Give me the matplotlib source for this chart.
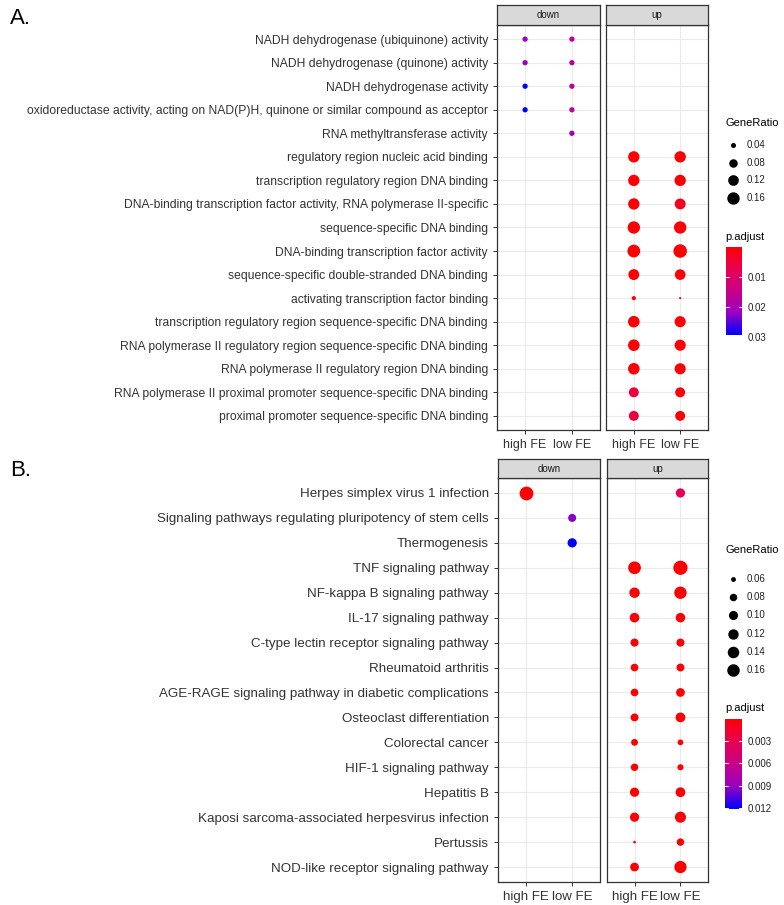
import numpy as np
import matplotlib
matplotlib.use('Agg')
import matplotlib.pyplot as plt
from matplotlib.colors import LinearSegmentedColormap, Normalize
from matplotlib.lines import Line2D

plt.rcParams['font.family'] = ['Liberation Sans', 'DejaVu Sans']

nan = np.nan

# ---- A. GO terms (top to bottom) ----
a_terms = [
    'NADH dehydrogenase (ubiquinone) activity',
    'NADH dehydrogenase (quinone) activity',
    'NADH dehydrogenase activity',
    'oxidoreductase activity, acting on NAD(P)H, quinone or similar compound as acceptor',
    'RNA methyltransferase activity',
    'regulatory region nucleic acid binding',
    'transcription regulatory region DNA binding',
    'DNA-binding transcription factor activity, RNA polymerase II-specific',
    'sequence-specific DNA binding',
    'DNA-binding transcription factor activity',
    'sequence-specific double-stranded DNA binding',
    'activating transcription factor binding',
    'transcription regulatory region sequence-specific DNA binding',
    'RNA polymerase II regulatory region sequence-specific DNA binding',
    'RNA polymerase II regulatory region DNA binding',
    'RNA polymerase II proximal promoter sequence-specific DNA binding',
    'proximal promoter sequence-specific DNA binding',
]
a_ratio_down_high = [0.042, 0.042, 0.042, 0.042] + [nan] * 13
a_padj_down_high = [0.022, 0.022, 0.0295, 0.0295] + [nan] * 13
a_ratio_down_low = [0.042, 0.042, 0.042, 0.042, 0.042] + [nan] * 12
a_padj_down_low = [0.017, 0.017, 0.017, 0.017, 0.022] + [nan] * 12
a_ratio_up_high = [nan] * 5 + [0.135, 0.135, 0.135, 0.16, 0.17, 0.125, 0.035,
                               0.14, 0.14, 0.14, 0.105, 0.105]
a_padj_up_high = [nan] * 5 + [0.0005, 0.0005, 0.0005, 0.0005, 0.0003, 0.0005, 0.001,
                              0.0005, 0.0005, 0.0005, 0.006, 0.006]
a_ratio_up_low = [nan] * 5 + [0.135, 0.135, 0.125, 0.16, 0.19, 0.12, 0.03,
                              0.13, 0.13, 0.13, 0.105, 0.105]
a_padj_up_low = [nan] * 5 + [0.0005, 0.0005, 0.003, 0.001, 0.0002, 0.001, 0.006,
                             0.001, 0.001, 0.001, 0.001, 0.001]

# ---- B. KEGG pathways (top to bottom) ----
b_terms = [
    'Herpes simplex virus 1 infection',
    'Signaling pathways regulating pluripotency of stem cells',
    'Thermogenesis',
    'TNF signaling pathway',
    'NF-kappa B signaling pathway',
    'IL-17 signaling pathway',
    'C-type lectin receptor signaling pathway',
    'Rheumatoid arthritis',
    'AGE-RAGE signaling pathway in diabetic complications',
    'Osteoclast differentiation',
    'Colorectal cancer',
    'HIF-1 signaling pathway',
    'Hepatitis B',
    'Kaposi sarcoma-associated herpesvirus infection',
    'Pertussis',
    'NOD-like receptor signaling pathway',
]
b_ratio_down_high = [0.19] + [nan] * 15
b_padj_down_high = [0.0003] + [nan] * 15
b_ratio_down_low = [nan, 0.086, 0.102] + [nan] * 13
b_padj_down_low = [nan, 0.0095, 0.0121] + [nan] * 13
b_ratio_up_high = [nan, nan, nan, 0.165, 0.12, 0.108, 0.087, 0.082, 0.082, 0.085,
                   0.074, 0.08, 0.102, 0.102, 0.055, 0.095]
b_padj_up_high = [nan, nan, nan, 0.0002, 0.0002, 0.0002, 0.0002, 0.0002, 0.0002,
                  0.0002, 0.0002, 0.0002, 0.0002, 0.0002, 0.0002, 0.0002]
b_ratio_up_low = [0.102, nan, nan, 0.20, 0.158, 0.106, 0.087, 0.085, 0.095, 0.11,
                  0.065, 0.068, 0.11, 0.132, 0.08, 0.155]
b_padj_up_low = [0.0035, nan, nan, 0.0001, 0.0002, 0.0002, 0.0002, 0.0002, 0.0002,
                 0.0002, 0.0003, 0.0003, 0.0002, 0.0002, 0.0002, 0.0002]

groups = ['high FE', 'low FE']

W, H = 784, 905
fig = plt.figure(figsize=(W / 100, H / 100), dpi=100)

# red -> blue, interpolated the way ggplot does (through magenta)
cmap = LinearSegmentedColormap.from_list(
    'padj', [(0, '#FF0000'), (0.25, '#E80050'), (0.5, '#CA0088'),
             (0.75, '#9A00C3'), (1, '#0000FF')])


def px_axes(x0, y0, x1, y1):
    return fig.add_axes([x0 / W, 1 - y1 / H, (x1 - x0) / W, (y1 - y0) / H])


def dot_px(v, lo, hi, r1, r2):
    v = np.asarray(v, dtype=float)
    return r1 + (r2 - r1) * np.sqrt((v - lo) / (hi - lo))


def draw_block(letter, terms, cols, g):
    n = len(terms)
    ratios = np.concatenate([np.asarray(c[0], float) for c in cols])
    padjs = np.concatenate([np.asarray(c[1], float) for c in cols])
    lo, hi = np.nanmin(ratios), np.nanmax(ratios)
    norm = Normalize(np.nanmin(padjs), np.nanmax(padjs))
    ypos = np.arange(n, 0, -1)

    fig.text(10 / W, 1 - g['letter_y'] / H, letter, fontsize=16, va='center')

    for k, (facet, (x0, x1)) in enumerate(zip(['down', 'up'], g['xs'])):
        ax = px_axes(x0, g['plot'][0], x1, g['plot'][1])
        ax.set_xlim(0.4, 2.6)
        ax.set_ylim(0.4, n + 0.6)
        ax.set_xticks([1, 2])
        ax.set_yticks(ypos)
        ax.grid(True, color='#EBEBEB', lw=0.8)
        ax.set_axisbelow(True)
        for sp in ax.spines.values():
            sp.set_color('#333333')
            sp.set_linewidth(0.9)
        ax.tick_params(length=3, color='#333333', width=0.7,
                       labelcolor='#333333')
        ax.set_xticklabels(groups, fontsize=g['xfs'])
        if k == 0:
            ax.set_yticklabels(terms, fontsize=g['yfs'])
        else:
            ax.tick_params(axis='y', length=0, labelleft=False)

        for j in range(2):
            r, p = cols[2 * k + j]
            r = np.asarray(r, float)
            p = np.asarray(p, float)
            m = ~np.isnan(r)
            d = dot_px(r[m], lo, hi, g['r1'], g['r2'])
            ax.scatter(np.full(m.sum(), j + 1), ypos[m], s=(d * 0.72) ** 2,
                       c=p[m], cmap=cmap, norm=norm, linewidths=0, zorder=3)

        st = px_axes(x0, g['strip'][0], x1, g['strip'][1])
        st.set_facecolor('#D9D9D9')
        st.set_xticks([])
        st.set_yticks([])
        for sp in st.spines.values():
            sp.set_color('#333333')
            sp.set_linewidth(0.9)
        st.text(0.5, 0.5, facet, ha='center', va='center', fontsize=7,
                color='#1A1A1A', transform=st.transAxes)

    # size legend
    lx = g['leg_x']
    fig.text(lx / W, 1 - g['size_title'] / H, 'GeneRatio', fontsize=8,
             va='center')
    for i, b in enumerate(g['size_breaks']):
        y = 1 - (g['size_y0'] + i * g['size_step']) / H
        d = float(dot_px(b, lo, hi, g['r1'], g['r2']))
        fig.add_artist(Line2D([(lx + 8) / W], [y], marker='o', ms=d * 0.72,
                              color='black', mec='none', ls='none',
                              transform=fig.transFigure))
        fig.text((lx + 22) / W, y, f'{b:.2f}', fontsize=7, va='center',
                 color='#222222')

    # colour bar
    fig.text(lx / W, 1 - g['cb_title'] / H, 'p.adjust', fontsize=8,
             va='center')
    cx0, cx1, cy0, cy1 = g['cb']
    cax = px_axes(cx0, cy0, cx1, cy1)
    grad = np.linspace(norm.vmin, norm.vmax, 256)[:, None]
    cax.imshow(grad, cmap=cmap, norm=norm, aspect='auto',
               extent=[0, 1, norm.vmax, norm.vmin])
    cax.set_xlim(0, 1)
    cax.set_ylim(norm.vmax, norm.vmin)
    for t in g['cb_ticks']:
        cax.plot([0, 0.2], [t, t], color='white', lw=0.7)
        cax.plot([0.8, 1], [t, t], color='white', lw=0.7)
    cax.set_xticks([])
    cax.yaxis.tick_right()
    cax.set_yticks(g['cb_ticks'])
    cax.set_yticklabels([f'{t:g}' for t in g['cb_ticks']], fontsize=7,
                        color='#222222')
    cax.tick_params(length=0, pad=4)
    for sp in cax.spines.values():
        sp.set_visible(False)


draw_block('A.', a_terms,
           [(a_ratio_down_high, a_padj_down_high),
            (a_ratio_down_low, a_padj_down_low),
            (a_ratio_up_high, a_padj_up_high),
            (a_ratio_up_low, a_padj_up_low)],
           dict(letter_y=19, xs=[(497, 600), (606, 708)], plot=(25, 430),
                strip=(5, 25), xfs=9, yfs=8.75, r1=2.2, r2=13.5,
                leg_x=725, size_title=123, size_y0=145, size_step=17.7,
                size_breaks=[0.04, 0.08, 0.12, 0.16], cb_title=237,
                cb=(726, 742, 247, 337), cb_ticks=[0.01, 0.02, 0.03]))

draw_block('B.', b_terms,
           [(b_ratio_down_high, b_padj_down_high),
            (b_ratio_down_low, b_padj_down_low),
            (b_ratio_up_high, b_padj_up_high),
            (b_ratio_up_low, b_padj_up_low)],
           dict(letter_y=470, xs=[(498, 600), (607, 708)], plot=(478, 882),
                strip=(459, 478), xfs=9.5, yfs=9.6, r1=2.7, r2=14.2,
                leg_x=725, size_title=550, size_y0=579, size_step=18.2,
                size_breaks=[0.06, 0.08, 0.10, 0.12, 0.14, 0.16], cb_title=708,
                cb=(725, 742, 719, 809),
                cb_ticks=[0.003, 0.006, 0.009, 0.012]))

fig.savefig('out.png', dpi=100)
